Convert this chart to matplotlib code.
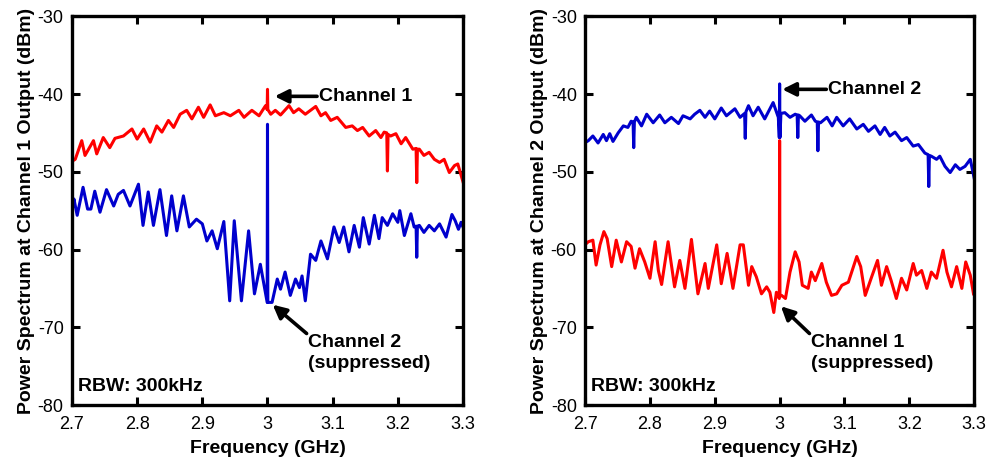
import matplotlib
matplotlib.use("Agg")
import matplotlib.pyplot as plt

plt.rcParams['font.family'] = ['Liberation Sans', 'DejaVu Sans']
plt.rcParams['axes.unicode_minus'] = False

# ---------------- data (GHz, dBm) ----------------
xticks = [2.7, 2.8, 2.9, 3.0, 3.1, 3.2, 3.3]
xtick_labels = ["2.7", "2.8", "2.9", "3", "3.1", "3.2", "3.3"]
yticks = [-80, -70, -60, -50, -40, -30]

# Panel 1: output of channel 1
p1_channel1 = [(2.701, -48.6), (2.705, -48.4), (2.715, -46.0), (2.720, -47.9), (2.733, -46.0), (2.738, -47.7),
               (2.748, -45.6), (2.758, -46.9), (2.766, -45.7), (2.779, -45.4), (2.792, -44.5), (2.800, -45.8),
               (2.810, -44.5), (2.820, -46.2), (2.830, -44.1), (2.838, -44.9), (2.848, -43.4), (2.856, -44.3),
               (2.866, -42.6), (2.876, -42.1), (2.884, -43.2), (2.894, -41.7), (2.902, -43.0), (2.912, -41.4),
               (2.920, -42.8), (2.933, -42.4), (2.943, -42.8), (2.956, -42.1), (2.964, -43.0), (2.976, -42.1),
               (2.987, -42.8), (2.997, -41.5), (2.9995, -42.0), (3.000, -39.4), (3.0005, -42.0), (3.005, -42.6),
               (3.012, -42.1), (3.020, -42.7), (3.033, -41.5), (3.040, -42.4), (3.048, -41.9), (3.058, -42.6),
               (3.074, -41.6), (3.082, -42.8), (3.089, -42.4), (3.097, -43.4), (3.107, -43.0), (3.120, -44.3),
               (3.130, -44.1), (3.138, -44.7), (3.146, -44.3), (3.156, -45.4), (3.166, -44.7), (3.174, -45.6),
               (3.179, -44.9), (3.183, -45.0), (3.184, -49.9), (3.185, -45.2), (3.189, -45.4), (3.197, -45.1),
               (3.205, -46.4), (3.212, -45.6), (3.223, -47.1), (3.228, -47.0), (3.229, -51.4), (3.230, -47.1),
               (3.233, -47.1), (3.240, -47.9), (3.248, -47.5), (3.256, -48.4), (3.264, -48.8), (3.271, -48.4),
               (3.279, -50.1), (3.287, -49.2), (3.292, -49.0), (3.300, -51.3)]

p1_channel2 = [(2.701, -54.5), (2.703, -53.5), (2.708, -55.6), (2.717, -52.0), (2.724, -54.8), (2.729, -54.8),
               (2.735, -52.5), (2.743, -55.2), (2.753, -52.3), (2.764, -54.4), (2.771, -52.9), (2.779, -52.4),
               (2.789, -54.4), (2.802, -51.6), (2.809, -56.9), (2.817, -52.6), (2.825, -56.9), (2.835, -52.3),
               (2.845, -58.2), (2.853, -53.1), (2.861, -57.6), (2.871, -53.1), (2.880, -57.1), (2.891, -56.1),
               (2.900, -56.7), (2.907, -58.9), (2.915, -57.6), (2.923, -59.9), (2.933, -56.4), (2.942, -66.6),
               (2.949, -56.3), (2.960, -66.6), (2.971, -57.6), (2.980, -65.7), (2.989, -61.9), (2.9995, -66.8),
               (3.000, -43.9), (3.0005, -66.8), (3.007, -66.8), (3.015, -63.8), (3.020, -65.1), (3.027, -62.9),
               (3.035, -65.9), (3.043, -63.8), (3.049, -64.9), (3.053, -63.4), (3.058, -66.6), (3.066, -60.6),
               (3.074, -61.4), (3.082, -58.9), (3.092, -61.2), (3.102, -57.1), (3.110, -59.1), (3.117, -57.1),
               (3.125, -60.3), (3.133, -56.9), (3.141, -59.7), (3.147, -55.9), (3.156, -59.3), (3.164, -55.6),
               (3.171, -58.6), (3.176, -55.9), (3.184, -56.9), (3.192, -55.4), (3.200, -56.5), (3.203, -55.0),
               (3.210, -58.2), (3.220, -55.4), (3.225, -57.1), (3.228, -57.0), (3.229, -61.0), (3.230, -57.0),
               (3.233, -56.9), (3.240, -57.8), (3.248, -56.9), (3.256, -57.6), (3.264, -56.7), (3.274, -58.4),
               (3.283, -55.5), (3.288, -56.3), (3.293, -57.4), (3.297, -56.5), (3.300, -57.1)]

# Panel 2: output of channel 2
p2_channel2 = [(2.701, -46.2), (2.705, -46.0), (2.712, -45.4), (2.720, -46.3), (2.728, -45.2), (2.733, -46.0),
               (2.738, -45.1), (2.743, -46.1), (2.751, -45.0), (2.759, -44.1), (2.766, -44.3), (2.771, -43.5),
               (2.774, -43.6), (2.775, -46.9), (2.776, -43.6), (2.779, -43.0), (2.787, -44.1), (2.795, -42.6),
               (2.805, -43.7), (2.815, -42.7), (2.823, -43.7), (2.833, -43.0), (2.844, -43.8), (2.851, -42.8),
               (2.862, -43.2), (2.869, -42.6), (2.877, -42.1), (2.885, -43.0), (2.892, -42.2), (2.900, -43.2),
               (2.910, -41.8), (2.918, -42.8), (2.931, -41.9), (2.939, -43.0), (2.946, -42.5), (2.947, -45.7),
               (2.948, -42.3), (2.952, -41.5), (2.959, -42.8), (2.967, -41.7), (2.977, -43.2), (2.990, -41.1),
               (2.998, -43.0), (2.9995, -45.6), (3.000, -38.7), (3.0005, -45.6), (3.002, -42.5), (3.008, -42.4),
               (3.016, -43.0), (3.024, -42.6), (3.027, -42.7), (3.028, -45.6), (3.029, -42.7), (3.031, -42.8),
               (3.039, -43.5), (3.049, -42.7), (3.055, -43.5), (3.058, -43.6), (3.059, -47.3), (3.060, -43.6),
               (3.063, -43.7), (3.073, -43.0), (3.081, -44.1), (3.088, -43.0), (3.098, -44.1), (3.108, -43.2),
               (3.119, -44.5), (3.129, -43.9), (3.137, -44.8), (3.147, -44.1), (3.155, -45.2), (3.162, -44.3),
               (3.170, -45.4), (3.178, -44.9), (3.188, -46.0), (3.196, -45.6), (3.206, -46.7), (3.214, -46.5),
               (3.224, -47.6), (3.229, -47.8), (3.230, -51.9), (3.231, -47.9), (3.234, -48.0), (3.242, -48.4),
               (3.247, -48.0), (3.255, -49.3), (3.263, -50.1), (3.271, -49.1), (3.278, -49.7), (3.286, -49.3),
               (3.294, -48.4), (3.300, -50.8)]

p2_channel1 = [(2.701, -59.3), (2.705, -59.0), (2.712, -58.8), (2.717, -62.0), (2.723, -59.4), (2.729, -57.7),
               (2.734, -58.6), (2.741, -62.2), (2.748, -58.8), (2.756, -61.6), (2.764, -59.0), (2.771, -59.6),
               (2.777, -62.4), (2.784, -59.9), (2.792, -61.6), (2.800, -63.7), (2.808, -59.0), (2.813, -62.7),
               (2.818, -64.5), (2.828, -59.0), (2.838, -64.8), (2.846, -61.4), (2.854, -65.0), (2.864, -58.7),
               (2.874, -65.7), (2.885, -61.8), (2.890, -65.0), (2.903, -59.4), (2.910, -64.4), (2.919, -60.5),
               (2.928, -65.0), (2.939, -59.4), (2.944, -59.4), (2.952, -64.6), (2.957, -62.2), (2.964, -63.5),
               (2.972, -65.7), (2.980, -64.8), (2.985, -65.5), (2.991, -68.1), (2.995, -65.5), (2.9995, -66.3),
               (3.000, -46.0), (3.0005, -66.0), (3.003, -65.9), (3.009, -66.3), (3.016, -62.9), (3.024, -60.3),
               (3.030, -61.6), (3.035, -64.6), (3.044, -65.0), (3.049, -62.9), (3.055, -64.0), (3.065, -61.8),
               (3.072, -64.2), (3.080, -65.9), (3.088, -65.7), (3.096, -64.6), (3.106, -64.2), (3.119, -60.9),
               (3.125, -62.2), (3.132, -65.9), (3.142, -63.5), (3.151, -61.4), (3.157, -64.6), (3.165, -62.2),
               (3.172, -64.0), (3.180, -66.3), (3.188, -63.7), (3.196, -65.2), (3.206, -61.8), (3.211, -63.3),
               (3.219, -62.7), (3.227, -65.0), (3.234, -62.9), (3.242, -63.7), (3.252, -60.1), (3.258, -62.9),
               (3.265, -64.8), (3.273, -62.2), (3.281, -65.0), (3.287, -61.6), (3.294, -63.3), (3.299, -65.7)]

RED = '#ff0000'
BLUE = '#0000cd'

fig = plt.figure(figsize=(9.9, 4.59), dpi=100)
ax1 = fig.add_axes([0.0727, 0.1176, 0.395, 0.847])
ax2 = fig.add_axes([0.591, 0.1176, 0.393, 0.847])


def unzip(pts):
    return [p[0] for p in pts], [p[1] for p in pts]


def style(ax, ylabel):
    ax.set_xlim(2.7, 3.3)
    ax.set_ylim(-80, -30)
    ax.set_xticks(xticks)
    ax.set_xticklabels(xtick_labels)
    ax.set_yticks(yticks)
    ax.tick_params(direction='in', length=6, width=2.2, top=True, right=True,
                   labelsize=13)
    ax.tick_params(axis='x', pad=8)
    ax.tick_params(axis='y', pad=6)
    for s in ax.spines.values():
        s.set_linewidth(2.4)
    ax.set_xlabel('Frequency (GHz)', fontsize=14, fontweight='bold', labelpad=5)
    ax.set_ylabel(ylabel, fontsize=14, fontweight='bold', labelpad=2)
    ax.text(2.709, -78.2, 'RBW: 300kHz', fontsize=14, fontweight='bold', va='baseline', ha='left')


arrow = dict(arrowstyle='-|>', color='black', lw=2.6, mutation_scale=20, shrinkA=0, shrinkB=0)

# Panel 1
x, y = unzip(p1_channel2)
ax1.plot(x, y, color=BLUE, lw=2.2)
x, y = unzip(p1_channel1)
ax1.plot(x, y, color=RED, lw=2.2)
style(ax1, 'Power Spectrum at Channel 1 Output (dBm)')
ax1.annotate('', xy=(3.011, -40.3), xytext=(3.076, -40.3), arrowprops=arrow)
ax1.text(3.079, -40.3, 'Channel 1', fontsize=14, fontweight='bold', va='center', ha='left')
ax1.annotate('', xy=(3.008, -67.1), xytext=(3.060, -70.8), arrowprops=arrow)
ax1.text(3.062, -70.9, 'Channel 2\n(suppressed)', fontsize=14, fontweight='bold',
         va='top', ha='left', linespacing=1.3)

# Panel 2
x, y = unzip(p2_channel2)
ax2.plot(x, y, color=BLUE, lw=2.2)
x, y = unzip(p2_channel1)
ax2.plot(x, y, color=RED, lw=2.2)
style(ax2, 'Power Spectrum at Channel 2 Output (dBm)')
ax2.annotate('', xy=(3.004, -39.4), xytext=(3.072, -39.4), arrowprops=arrow)
ax2.text(3.075, -39.4, 'Channel 2', fontsize=14, fontweight='bold', va='center', ha='left')
ax2.annotate('', xy=(3.002, -67.3), xytext=(3.046, -70.8), arrowprops=arrow)
ax2.text(3.048, -70.9, 'Channel 1\n(suppressed)', fontsize=14, fontweight='bold',
         va='top', ha='left', linespacing=1.3)

fig.savefig('out.png', dpi=100)
